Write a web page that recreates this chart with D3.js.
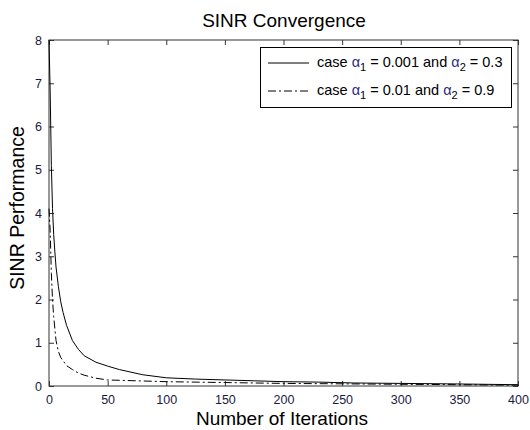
<!DOCTYPE html>
<html>
<head>
<meta charset="utf-8">
<script src="https://cdn.jsdelivr.net/npm/d3@7"></script>
<style>
  body { margin: 0; background: #fff; }
  text { font-family: "Liberation Sans", Arial, sans-serif; }
</style>
</head>
<body>
<div id="chart"></div>
<script>
// SINR convergence chart

var xTicks = [0, 50, 100, 150, 200, 250, 300, 350, 400];
var yTicks = [0, 1, 2, 3, 4, 5, 6, 7, 8];

// case a1 = 0.001, a2 = 0.3 (solid)
var iterA = [0, 1, 2, 3, 4, 5, 6, 8, 10, 12, 15, 20, 25, 30, 40, 50, 60, 80, 100, 125, 150, 175, 200, 230, 260, 300, 340, 370, 400];
var sinrA = [8.0, 6.8, 5.1, 4.1, 3.5, 3.1, 2.75, 2.3, 1.95, 1.7, 1.4, 1.05, 0.85, 0.7, 0.55, 0.46, 0.38, 0.26, 0.19, 0.16, 0.14, 0.12, 0.1, 0.09, 0.07, 0.06, 0.05, 0.04, 0.03];

// case a1 = 0.01, a2 = 0.9 (dash-dot)
var iterB = [0, 1, 2, 3, 4, 6, 8, 10, 15, 20, 25, 30, 40, 50, 75, 100, 150, 200, 250, 300, 350, 400];
var sinrB = [4.1, 3.6, 2.6, 2.0, 1.6, 1.05, 0.8, 0.66, 0.47, 0.38, 0.3, 0.25, 0.18, 0.14, 0.12, 0.1, 0.08, 0.06, 0.05, 0.04, 0.03, 0.02];

var width = 530, height = 430;
var margin = {left: 49, right: 12, top: 40, bottom: 44};

var svg = d3.select("#chart").append("svg")
    .attr("width", width)
    .attr("height", height);

var x = d3.scaleLinear().domain([0, 400]).range([margin.left, width - margin.right]);
var y = d3.scaleLinear().domain([0, 8]).range([height - margin.bottom, margin.top]);

var axisColor = "#333";

// ticks inside, all four sides
function styleAxis(g) {
  g.select(".domain").remove();
  g.selectAll(".tick line").attr("stroke", axisColor);
  g.selectAll(".tick text").attr("fill", "#1a1a40").style("font-size", "12.5px");
}

svg.append("g")
    .attr("transform", "translate(0," + y(0) + ")")
    .call(d3.axisBottom(x).tickValues(xTicks).tickSizeInner(-5).tickPadding(9))
    .call(styleAxis);
svg.append("g")
    .attr("transform", "translate(0," + y(8) + ")")
    .call(d3.axisTop(x).tickValues(xTicks).tickSizeInner(-5).tickFormat(""))
    .call(styleAxis);
svg.append("g")
    .attr("transform", "translate(" + x(0) + ",0)")
    .call(d3.axisLeft(y).tickValues(yTicks).tickSizeInner(-5).tickPadding(7))
    .call(styleAxis);
svg.append("g")
    .attr("transform", "translate(" + x(400) + ",0)")
    .call(d3.axisRight(y).tickValues(yTicks).tickSizeInner(-5).tickFormat(""))
    .call(styleAxis);

svg.append("rect")
    .attr("x", x(0)).attr("y", y(8))
    .attr("width", x(400) - x(0)).attr("height", y(0) - y(8))
    .attr("fill", "none").attr("stroke", axisColor).attr("stroke-width", 1);

var line = d3.line()
    .x(function(d) { return x(d[0]); })
    .y(function(d) { return y(d[1]); });

svg.append("path")
    .datum(d3.zip(iterA, sinrA))
    .attr("d", line)
    .attr("fill", "none")
    .attr("stroke", "#000")
    .attr("stroke-width", 1);

svg.append("path")
    .datum(d3.zip(iterB, sinrB))
    .attr("d", line)
    .attr("fill", "none")
    .attr("stroke", "#000")
    .attr("stroke-width", 1)
    .attr("stroke-dasharray", "8,3,2,3");

// legend
var lg = svg.append("g");
lg.append("rect")
    .attr("x", 260.5).attr("y", 47.5)
    .attr("width", 251).attr("height", 60)
    .attr("fill", "#fff").attr("stroke", "#000");

var entries = [
  {a1: "0.001", a2: "0.3", dash: null, yy: 63},
  {a1: "0.01", a2: "0.9", dash: "8,3,2,3", yy: 91}
];
entries.forEach(function(e) {
  lg.append("line")
      .attr("x1", 268).attr("x2", 309)
      .attr("y1", e.yy).attr("y2", e.yy)
      .attr("stroke", "#000")
      .attr("stroke-dasharray", e.dash);
  var t = lg.append("text")
      .attr("x", 317).attr("y", e.yy + 4)
      .style("font-size", "14.5px").attr("fill", "#000");
  t.append("tspan").text("case ");
  t.append("tspan").attr("fill", "#2a2a80").text("\u03b1");
  t.append("tspan").attr("dy", 4).style("font-size", "11px").text("1");
  t.append("tspan").attr("dy", -4).text(" = " + e.a1 + " and ");
  t.append("tspan").attr("fill", "#2a2a80").text("\u03b1");
  t.append("tspan").attr("dy", 4).style("font-size", "11px").text("2");
  t.append("tspan").attr("dy", -4).text(" = " + e.a2);
});

// titles
svg.append("text")
    .attr("x", 284).attr("y", 27)
    .attr("text-anchor", "middle")
    .style("font-size", "19px")
    .text("SINR Convergence");

svg.append("text")
    .attr("x", 282).attr("y", 425)
    .attr("text-anchor", "middle")
    .style("font-size", "19px")
    .text("Number of Iterations");

svg.append("text")
    .attr("transform", "translate(24," + 208 + ") rotate(-90)")
    .attr("text-anchor", "middle")
    .style("font-size", "19.5px")
    .text("SINR Performance");
</script>
</body>
</html>
